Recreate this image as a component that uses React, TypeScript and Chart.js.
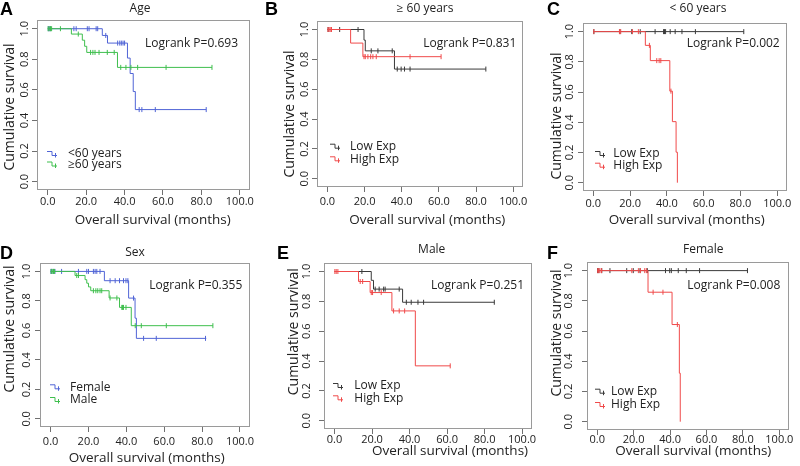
import React, { useEffect, useRef } from "react";
import { Chart, registerables } from "chart.js";

Chart.register(...registerables);

const FONT = '"Open Sans", "Noto Sans", Arial, sans-serif';
const LETTER_FONT = '"Liberation Sans", Arial, sans-serif';

const X_TICKS = [0, 20, 40, 60, 80, 100];
const Y_TICKS = [0, 0.2, 0.4, 0.6, 0.8, 1.0];
const X_MIN = -5.6;
const X_MAX = 105.3;
const Y_MIN = -0.055;
const Y_MAX = 1.057;
const X_TITLE = "Overall survival (months)";
const Y_TITLE = "Cumulative survival";

const BLUE = "#5064d6";
const GREEN = "#3fbf4e";
const RED = "#f04a4a";
const BLACK = "#3a3a3a";

// ---------- Panel A : Age ----------
const aYoungTime = [0, 28.4, 31.1, 41.5, 42.9, 44.5, 45.6, 82.5];
const aYoungSurv = [1, 0.956, 0.906, 0.808, 0.707, 0.589, 0.471, 0.471];
const aYoungCens = [0.3, 0.8, 1.5, 13.6, 14.8, 20.6, 21.5, 25.2, 26.0, 30.2, 36.4, 37.5, 38.3, 39.2, 40.0, 47.6, 49.0, 56.0, 82.5];
const aOldTime = [0, 12.3, 18.0, 19.2, 20.3, 36.3, 85.5];
const aOldSurv = [1, 0.965, 0.925, 0.885, 0.845, 0.747, 0.747];
const aOldCens = [0.2, 0.7, 1.4, 2.0, 6.6, 15.9, 22.3, 23.5, 24.6, 26.7, 31.0, 34.6, 38.0, 40.7, 43.3, 46.8, 61.6, 85.5];

// ---------- Panel B : >= 60 years ----------
const bLowTime = [0, 19.7, 20.4, 36.1, 85.3];
const bLowSurv = [1, 0.929, 0.857, 0.735, 0.735];
const bLowCens = [0.4, 6.6, 16.5, 23.6, 27.2, 34.9, 37.6, 39.7, 41.5, 44.5, 85.3];
const bHighTime = [0, 12.5, 19.1, 61.2];
const bHighSurv = [1, 0.909, 0.818, 0.818];
const bHighCens = [0.3, 0.9, 1.5, 2.2, 19.7, 20.4, 21.8, 23.3, 24.5, 26.3, 44.5, 61.2];

// ---------- Panel C : < 60 years ----------
const cLowTime = [0, 81.8];
const cLowSurv = [1, 1];
const cLowCens = [0.3, 14.5, 20.9, 25.5, 33.6, 38.2, 38.7, 39.3, 41.8, 44.5, 48.2, 55.5, 81.8];
const cHighTime = [0, 28.3, 31.0, 41.6, 43.0, 45.0, 45.7];
const cHighSurv = [1, 0.909, 0.808, 0.606, 0.404, 0.202, 0];
const cHighCens = [0.3, 14.2, 14.9, 21.3, 24.5, 30.5, 34.5, 35.8, 36.7, 42.2];

// ---------- Panel D : Sex ----------
const dFemTime = [0, 28.4, 41.2, 44.6, 45.3, 82.2];
const dFemSurv = [1, 0.937, 0.819, 0.683, 0.546, 0.546];
const dFemCens = [0.2, 0.6, 1.4, 2.3, 5.8, 14.7, 19.1, 20.0, 22.6, 23.5, 24.4, 26.1, 31.4, 34.1, 36.4, 38.5, 39.8, 40.8, 43.8, 49.1, 55.8, 81.8];
const dMaleTime = [0, 12.9, 18.2, 19.1, 20.0, 21.2, 30.9, 36.4, 42.6, 85.7];
const dMaleSurv = [1, 0.972, 0.944, 0.92, 0.895, 0.869, 0.82, 0.756, 0.632, 0.632];
const dMaleCens = [0.3, 0.8, 1.5, 2.0, 13.8, 14.7, 22.6, 23.9, 24.9, 26.1, 27.0, 31.4, 35.0, 37.6, 38.0, 38.5, 39.8, 44.7, 47.9, 61.1, 85.7];

// ---------- Panel E : Male ----------
const eLowTime = [0, 19.6, 20.8, 36.3, 85.2];
const eLowSurv = [1, 0.941, 0.882, 0.794, 0.794];
const eLowCens = [14.6, 21.7, 23.8, 26.2, 27.0, 34.5, 38.3, 40.9, 44.5, 47.5, 85.2];
const eHighTime = [0, 12.8, 19.0, 30.6, 43.1, 61.7];
const eHighSurv = [1, 0.933, 0.859, 0.736, 0.368, 0.368];
const eHighCens = [0.2, 0.9, 1.8, 13.7, 15.0, 19.6, 20.3, 24.9, 31.5, 34.5, 37.4, 61.7];

// ---------- Panel F : Female ----------
const fLowTime = [0, 82.7];
const fLowSurv = [1, 1];
const fLowCens = [0.2, 0.9, 2.5, 7.0, 16.2, 19.8, 23.5, 27.5, 37.5, 39.8, 40.7, 44.5, 48.9, 56.2, 82.5];
const fHighTime = [0, 27.9, 41.1, 45.1, 45.6];
const fHighSurv = [1, 0.857, 0.643, 0.321, 0];
const fHighCens = [0.3, 0.8, 1.5, 2.4, 19.0, 22.6, 23.7, 26.1, 27.0, 30.7, 36.1, 44.0];

type Series = { label: string; color: string; time: number[]; surv: number[]; cens: number[] };
type PanelCfg = {
  id: string;
  title: string;
  logrank: string;
  canvas: [number, number, number, number];
  frame: [number, number, number, number];
  titlePos: [number, number];
  lrPos: [number, number];
  legendSymX: number;
  legendTextX: number;
  legendY: [number, number];
  xTitlePos: [number, number];
  yTitlePos: [number, number];
  yTickOff: number;
  xTickOff: number;
  letterPos: [number, number];
  series: Series[];
};

const panels: PanelCfg[] = [
  {
    id: "A", title: "Age", logrank: "Logrank P=0.693",
    canvas: [0, 0, 265, 232], frame: [37, 20, 250, 190],
    titlePos: [140, 8.5], lrPos: [145, 43.5],
    legendSymX: 47, legendTextX: 68, legendY: [154, 164.5],
    xTitlePos: [152.7, 220], yTitlePos: [10, 107],
    yTickOff: 12, xTickOff: 12.2, letterPos: [0, 15],
    series: [
      { label: "<60 years", color: BLUE, time: aYoungTime, surv: aYoungSurv, cens: aYoungCens },
      { label: "≥60 years", color: GREEN, time: aOldTime, surv: aOldSurv, cens: aOldCens },
    ],
  },
  {
    id: "B", title: "≥ 60 years", logrank: "Logrank P=0.831",
    canvas: [265, 0, 265, 232], frame: [317, 21, 523, 187],
    titlePos: [425, 8.5], lrPos: [423.3, 43.5],
    legendSymX: 330, legendTextX: 350, legendY: [146.7, 159.3],
    xTitlePos: [427.3, 220], yTitlePos: [290, 114],
    yTickOff: 12.4, xTickOff: 15, letterPos: [265, 15],
    series: [
      { label: "Low Exp", color: BLACK, time: bLowTime, surv: bLowSurv, cens: bLowCens },
      { label: "High Exp", color: RED, time: bHighTime, surv: bHighSurv, cens: bHighCens },
    ],
  },
  {
    id: "C", title: "< 60 years", logrank: "Logrank P=0.002",
    canvas: [530, 0, 270, 232], frame: [583, 23, 787, 191],
    titlePos: [698, 8.5], lrPos: [686.7, 43.5],
    legendSymX: 595, legendTextX: 613.3, legendY: [154, 165.7],
    xTitlePos: [686.7, 220], yTitlePos: [556.7, 116],
    yTickOff: 12.7, xTickOff: 12.6, letterPos: [547, 15],
    series: [
      { label: "Low Exp", color: BLACK, time: cLowTime, surv: cLowSurv, cens: cLowCens },
      { label: "High Exp", color: RED, time: cHighTime, surv: cHighSurv, cens: cHighCens },
    ],
  },
  {
    id: "D", title: "Sex", logrank: "Logrank P=0.355",
    canvas: [0, 232, 265, 234], frame: [40, 263, 250, 427],
    titlePos: [135, 252.7], lrPos: [149.3, 286],
    legendSymX: 50, legendTextX: 70, legendY: [387.3, 400],
    xTitlePos: [146.7, 458.3], yTitlePos: [10, 329],
    yTickOff: 13.3, xTickOff: 14.4, letterPos: [0, 258.5],
    series: [
      { label: "Female", color: BLUE, time: dFemTime, surv: dFemSurv, cens: dFemCens },
      { label: "Male", color: GREEN, time: dMaleTime, surv: dMaleSurv, cens: dMaleCens },
    ],
  },
  {
    id: "E", title: "Male", logrank: "Logrank P=0.251",
    canvas: [268, 232, 272, 234], frame: [324, 263, 532, 429],
    titlePos: [431.7, 250], lrPos: [431, 286],
    legendSymX: 333, legendTextX: 354.3, legendY: [386, 398.3],
    xTitlePos: [450, 451], yTitlePos: [294.5, 331.7],
    yTickOff: 17, xTickOff: 10.7, letterPos: [277, 258.5],
    series: [
      { label: "Low Exp", color: BLACK, time: eLowTime, surv: eLowSurv, cens: eLowCens },
      { label: "High Exp", color: RED, time: eHighTime, surv: eHighSurv, cens: eHighCens },
    ],
  },
  {
    id: "F", title: "Female", logrank: "Logrank P=0.008",
    canvas: [540, 232, 260, 234], frame: [587, 262, 789, 430],
    titlePos: [703.3, 250], lrPos: [687.3, 286],
    legendSymX: 595, legendTextX: 611, legendY: [391.7, 405],
    xTitlePos: [693.3, 451], yTitlePos: [557, 333],
    yTickOff: 18.3, xTickOff: 10, letterPos: [547, 258.5],
    series: [
      { label: "Low Exp", color: BLACK, time: fLowTime, surv: fLowSurv, cens: fLowCens },
      { label: "High Exp", color: RED, time: fHighTime, surv: fHighSurv, cens: fHighCens },
    ],
  },
];

const TICK_LEN = 5;
const TICK_FONT_SIZE = 11;
const TEXT = "#222222";
const FRAME = "#9a9a9a";
const TICK_COLOR = "#707070";

function survAt(time: number[], surv: number[], t: number) {
  let s = surv[0];
  for (let i = 0; i < time.length; i++) if (time[i] <= t) s = surv[i];
  return s;
}

function measure(text: string, font: string) {
  const c = document.createElement("canvas");
  const ctx = c.getContext("2d")!;
  ctx.font = font;
  return ctx.measureText(text).width;
}

function drawSymbol(ctx: CanvasRenderingContext2D, x: number, y: number, color: string) {
  ctx.save();
  ctx.strokeStyle = color;
  ctx.lineWidth = 1;
  ctx.beginPath();
  ctx.moveTo(x, y - 2.5);
  ctx.lineTo(x + 5, y - 2.5);
  ctx.lineTo(x + 5, y + 1.5);
  ctx.lineTo(x + 10, y + 1.5);
  ctx.moveTo(x + 8.5, y - 1);
  ctx.lineTo(x + 8.5, y + 3.5);
  ctx.stroke();
  ctx.restore();
}

function makeDecor(p: PanelCfg) {
  const ox = p.canvas[0];
  const oy = p.canvas[1];
  return {
    id: "decor" + p.id,
    beforeDatasetsDraw(chart: any) {
      const ctx: CanvasRenderingContext2D = chart.ctx;
      const ca = chart.chartArea;
      ctx.save();
      ctx.strokeStyle = FRAME;
      ctx.lineWidth = 1;
      ctx.strokeRect(ca.left + 0.5, ca.top + 0.5, ca.right - ca.left - 1, ca.bottom - ca.top - 1);
      ctx.restore();
    },
    afterDraw(chart: any) {
      const ctx: CanvasRenderingContext2D = chart.ctx;
      ctx.save();
      // panel letter
      ctx.fillStyle = "#000";
      ctx.font = `bold 18px ${LETTER_FONT}`;
      ctx.textAlign = "left";
      ctx.textBaseline = "alphabetic";
      ctx.fillText(p.id, p.letterPos[0] - ox, p.letterPos[1] - oy);
      // title
      ctx.fillStyle = TEXT;
      ctx.font = `12px ${FONT}`;
      ctx.textAlign = "center";
      ctx.textBaseline = "middle";
      ctx.fillText(p.title, p.titlePos[0] - ox, p.titlePos[1] - oy);
      // logrank
      ctx.font = `12px ${FONT}`;
      ctx.textAlign = "left";
      ctx.fillText(p.logrank, p.lrPos[0] - ox, p.lrPos[1] - oy);
      // legend
      p.series.forEach((s, i) => {
        const y = p.legendY[i] - oy;
        drawSymbol(ctx, p.legendSymX - ox, y, s.color);
        ctx.fillStyle = TEXT;
        ctx.font = `12px ${FONT}`;
        ctx.textAlign = "left";
        ctx.textBaseline = "middle";
        ctx.fillText(s.label, p.legendTextX - ox, y);
      });
      // axis titles
      ctx.fillStyle = TEXT;
      ctx.font = `13.5px ${FONT}`;
      ctx.textAlign = "center";
      ctx.textBaseline = "middle";
      ctx.fillText(X_TITLE, p.xTitlePos[0] - ox, p.xTitlePos[1] - oy);
      ctx.save();
      ctx.translate(p.yTitlePos[0] - ox, p.yTitlePos[1] - oy);
      ctx.rotate(-Math.PI / 2);
      ctx.font = `14px ${FONT}`;
      ctx.fillText(Y_TITLE, 0, 0);
      ctx.restore();
      ctx.restore();
    },
  };
}

function Panel({ p }: { p: PanelCfg }) {
  const ref = useRef<HTMLCanvasElement>(null);
  useEffect(() => {
    const [cx, cy, cw, ch] = p.canvas;
    const [l, t, r, b] = p.frame;
    const tickFont = `${TICK_FONT_SIZE}px ${FONT}`;
    const widest = measure("0.0", tickFont);
    const yPad = p.yTickOff - TICK_LEN - widest / 2;
    const xPad = p.xTickOff - TICK_LEN - (TICK_FONT_SIZE * 1.2) / 2;
    const datasets: any[] = [];
    [...p.series].reverse().forEach((s) => {
      datasets.push({
        type: "scatter",
        label: s.label + " (censored)",
        data: s.cens.map((c) => ({ x: c, y: survAt(s.time, s.surv, c) })),
        borderColor: s.color,
        backgroundColor: s.color,
        pointStyle: "line",
        rotation: 90,
        pointRadius: 2.5,
        borderWidth: 1,
        showLine: false,
      });
      datasets.push({
        type: "line",
        label: s.label,
        data: s.time.map((tt, i) => ({ x: tt, y: s.surv[i] })),
        borderColor: s.color,
        backgroundColor: s.color,
        borderWidth: 1,
        pointRadius: 0,
        stepped: "before",
        fill: false,
        tension: 0,
      });
    });
    const gridCommon = {
      drawOnChartArea: false,
      drawTicks: true,
      tickLength: TICK_LEN,
      color: TICK_COLOR,
      tickColor: TICK_COLOR,
      lineWidth: 1,
    };
    const chart = new Chart(ref.current!, {
      type: "line",
      data: { datasets },
      options: {
        animation: false,
        responsive: false,
        maintainAspectRatio: false,
        events: [],
        layout: {
          autoPadding: false,
          padding: { left: 0, bottom: 0, top: t - cy, right: cx + cw - r },
        },
        plugins: { legend: { display: false }, tooltip: { enabled: false }, title: { display: false } },
        scales: {
          x: {
            type: "linear",
            min: X_MIN,
            max: X_MAX,
            afterBuildTicks: (s: any) => {
              s.ticks = X_TICKS.map((v) => ({ value: v }));
            },
            afterFit: (s: any) => {
              s.height = cy + ch - b;
              s.paddingLeft = 0;
              s.paddingRight = 0;
            },
            ticks: {
              callback: (v: any) => Number(v).toFixed(1),
              font: { family: FONT, size: TICK_FONT_SIZE },
              color: TEXT,
              padding: xPad,
              autoSkip: false,
              maxRotation: 0,
              minRotation: 0,
            },
            grid: gridCommon,
            border: { display: false },
          },
          y: {
            type: "linear",
            min: Y_MIN,
            max: Y_MAX,
            afterBuildTicks: (s: any) => {
              s.ticks = Y_TICKS.map((v) => ({ value: v }));
            },
            afterFit: (s: any) => {
              s.width = l - cx;
              s.paddingTop = 0;
              s.paddingBottom = 0;
            },
            ticks: {
              callback: (v: any) => Number(v).toFixed(1),
              font: { family: FONT, size: TICK_FONT_SIZE },
              color: TEXT,
              padding: yPad,
              autoSkip: false,
              minRotation: 90,
              maxRotation: 90,
              crossAlign: "center",
            },
            grid: gridCommon,
            border: { display: false },
          },
        },
      } as any,
      plugins: [makeDecor(p)],
    });
    return () => chart.destroy();
  }, [p]);
  const [cx, cy, cw, ch] = p.canvas;
  return (
    <canvas
      ref={ref}
      width={cw}
      height={ch}
      style={{ position: "absolute", left: cx, top: cy, width: cw, height: ch }}
    />
  );
}

export default function App() {
  return (
    <div style={{ position: "absolute", left: 0, top: 0, width: 800, height: 466, background: "#ffffff", overflow: "hidden" }}>
      {panels.map((p) => (
        <Panel key={p.id} p={p} />
      ))}
    </div>
  );
}
